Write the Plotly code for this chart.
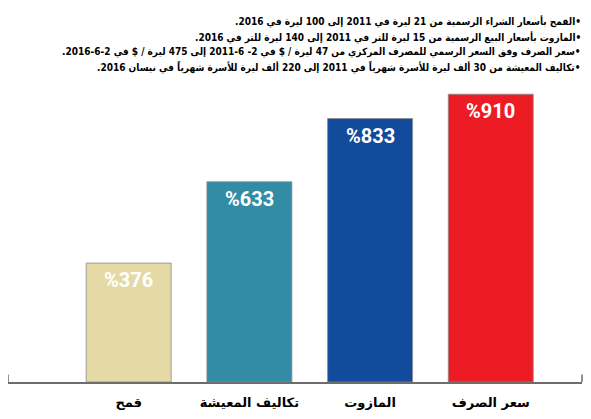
import plotly.graph_objects as go

# data read from the infographic
categories = ["قمح", "تكاليف المعيشة", "المازوت", "سعر الصرف"]
increase_pct = [376, 633, 833, 910]
bar_colors = ["#E5DAA6", "#338CA6", "#124A9C", "#ED1C24"]

notes = [
    "•القمح بأسعار الشراء الرسمية من 21 ليرة في 2011 إلى 100 ليرة في 2016.",
    "•المازوت بأسعار البيع الرسمية من 15 ليرة للتر في 2011 إلى 140 ليرة للتر في 2016.",
    "•سعر الصرف وفق السعر الرسمي للمصرف المركزي من 47 ليرة / $ في 2- 6-2011 إلى 475 ليرة / $ في 2-6-2016.",
    "•تكاليف المعيشة من 30 ألف ليرة للأسرة شهرياً في 2011 إلى 220 ألف ليرة للأسرة شهرياً في نيسان 2016.",
]

RLM = "\u200f"  # keep bullet on the right and the full stop on the left

fig = go.Figure()
fig.add_trace(go.Bar(
    x=categories,
    y=increase_pct,
    marker=dict(color=bar_colors, line=dict(color="#8a8a8a", width=0.8)),
    hoverinfo="skip",
))

# value labels inside the top of each bar
for c, v in zip(categories, increase_pct):
    fig.add_annotation(
        x=c, y=v, text="%" + str(v), showarrow=False,
        yanchor="middle", yshift=-17,
        font=dict(family="Liberation Sans Narrow, Roboto", size=20, color="white", weight="bold"),
    )

# notes block at the top, right aligned
# (page body has an 8px margin, so the figure is 8px smaller than the window)
note_y = [14, 30, 44, 59]
for txt, py in zip(notes, note_y):
    fig.add_annotation(
        xref="paper", yref="paper", x=575 / 574, y=(374 - py) / 302,
        text=RLM + txt + RLM, showarrow=False, xanchor="right", yanchor="middle", align="right",
        font=dict(family="DejaVu Sans Condensed, DejaVu Sans", size=10, color="black", weight="bold"),
    )

# small upturned ends of the base line
for px_ in [0, 1]:
    fig.add_shape(type="line", xref="paper", yref="paper", x0=px_, x1=px_, y0=0, y1=0.025,
                  line=dict(color="#6d6d6d", width=1.5))

fig.update_layout(
    width=583, height=411,
    margin=dict(l=0, r=9, t=72, b=37),
    plot_bgcolor="white", paper_bgcolor="white",
    bargap=0.296,
    showlegend=False,
    xaxis=dict(
        type="category", categoryorder="array", categoryarray=categories,
        range=[-1.0, 3.756],
        showline=True, linecolor="#6d6d6d", linewidth=1.5,
        showgrid=False, zeroline=False, ticks="",
        ticklabelstandoff=8,
        tickfont=dict(family="DejaVu Sans", size=13, color="black", weight="bold"),
    ),
    yaxis=dict(range=[0, 955], visible=False, showgrid=False, zeroline=False),
)

fig.write_html("out.html")
